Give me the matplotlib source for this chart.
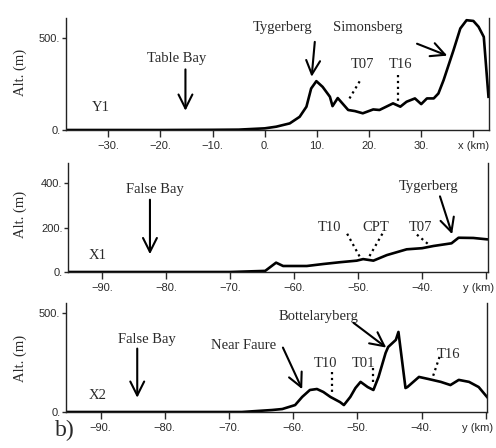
import numpy as np
import matplotlib
matplotlib.use("Agg")
import matplotlib.pyplot as plt
from matplotlib.ticker import FuncFormatter

# profile Y1 (x in km, altitude in m)
y1_km = [-38, -20, -10, -5, 0, 2.2, 4.8, 6.7, 8.0, 8.9, 9.9, 11.1, 12.5, 13.0, 14.0, 16.0,
         17.3, 18.8, 20.8, 22.0, 23.3, 24.6, 26.0, 27.2, 28.8, 30.0, 31.1, 32.4, 33.3,
         34.3, 36.2, 37.5, 38.7, 40.0, 41.0, 42.0, 42.9]
y1_alt = [0, 0, 1, 2, 9, 18, 36, 72, 127, 226, 266, 235, 181, 130, 174, 109,
          103, 91, 112, 109, 127, 145, 127, 154, 172, 141, 172, 172, 199,
          272, 435, 553, 598, 594, 562, 507, 181]

# profile X1 (y in km)
x1_km = [-95.3, -80, -70, -64.5, -62.8, -61.7, -58.0, -55.4, -52.8, -50.2, -49.2, -47.6,
         -45.5, -42.4, -40.0, -38.2, -35.4, -34.3, -32.0, -29.9]
x1_alt = [0, 0, 0, 5, 42, 27, 27, 36, 44, 51, 58, 51,
          76, 102, 107, 117, 129, 154, 153, 147]

# profile X2 (y in km)
x2_km = [-95.4, -80, -68, -63.3, -61.7, -59.7, -58.6, -57.4, -56.3, -55.3, -54.2, -52.7,
         -52.1, -51.1, -50.3, -49.5, -48.4, -47.5, -46.7, -45.6, -45.2, -44.0, -43.6,
         -42.5, -42.2, -40.4, -39.0, -37.0, -35.5, -34.2, -32.6, -31.1, -29.8]
x2_alt = [0, 0, 0, 10, 15, 35, 76, 111, 116, 101, 76, 50,
          35, 76, 121, 152, 126, 111, 177, 298, 328, 364, 404,
          121, 126, 177, 167, 152, 136, 162, 152, 126, 76]

y1_xticks = [-30, -20, -10, 0, 10, 20, 30, 40]
y1_xlabels = ["\u221230.", "\u221220.", "\u221210.", "0.", "10.", "20.", "30.", "x (km)"]
x_ticks = [-90, -80, -70, -60, -50, -40, -30]
x_labels = ["\u221290.", "\u221280.", "\u221270.", "\u221260.", "\u221250.", "\u221240.", ""]
x_unit = "y (km)"

serif = "Liberation Serif"
sans = "Liberation Sans"
txtc = "#2a2a2a"

fig = plt.figure(figsize=(4.96, 4.48), dpi=100)


def panel(rect, xlim, ylim, yticks, xticks, xlabels):
    ax = fig.add_axes(rect)
    ax.set_xlim(*xlim)
    ax.set_ylim(*ylim)
    ax.spines["top"].set_visible(False)
    for s in ["left", "right", "bottom"]:
        ax.spines[s].set_linewidth(1.0)
        ax.spines[s].set_color("#222222")
    ax.set_yticks(yticks)
    ax.yaxis.set_major_formatter(FuncFormatter(lambda v, p: "%d." % v))
    ax.set_xticks(xticks)
    ax.set_xticklabels(xlabels)
    ax.tick_params(axis="x", direction="out", length=5, width=1, pad=3,
                   labelsize=8, colors=txtc)
    ax.tick_params(axis="y", direction="out", length=3, width=1, pad=1,
                   labelsize=8, colors=txtc)
    for lab in ax.get_xticklabels() + ax.get_yticklabels():
        lab.set_family(sans)
    return ax


def arrow(ax, tail, head):
    ax.annotate("", xy=head, xytext=tail,
                arrowprops=dict(arrowstyle="->,head_length=1.0,head_width=0.5",
                                lw=1.5, color="k", shrinkA=0, shrinkB=0))


def dots(ax, p0, p1):
    ax.plot([p0[0], p1[0]], [p0[1], p1[1]], ls=":", lw=1.6, color="k")


def label(ax, x, y, s):
    ax.text(x, y, s, family=serif, fontsize=10.5, color=txtc, ha="center", va="center")


def unit(ax, x):
    ax.annotate(x_unit, xy=(x, 0), xycoords=("data", "axes fraction"),
                xytext=(0, -11.5), textcoords="offset points", ha="center", va="center",
                family=sans, fontsize=8, color=txtc, annotation_clip=False)


# ---- panel Y1
ax1 = panel([66 / 496, 1 - 130 / 448, 423 / 496, 112 / 448], (-38.1, 43), (0, 610),
            [0, 500], y1_xticks, y1_xlabels)
ax1.plot(y1_km, y1_alt, color="k", lw=1.9)
label(ax1, -16.8, 390, "Table Bay")
arrow(ax1, (-15.2, 330), (-15.2, 105))
label(ax1, -31.5, 120, "Y1")
label(ax1, 3.5, 560, "Tygerberg")
arrow(ax1, (9.6, 480), (9.0, 290))
label(ax1, 19.8, 560, "Simonsberg")
arrow(ax1, (29.2, 470), (35.0, 405))
label(ax1, 18.8, 355, "T07")
dots(ax1, (18.2, 265), (16.0, 160))
label(ax1, 26.1, 355, "T16")
dots(ax1, (25.6, 300), (25.6, 150))

# ---- panel X1
ax2 = panel([68 / 496, 1 - 272 / 448, 420 / 496, 109 / 448], (-95.3, -29.7), (0, 490),
            [0, 200, 400], x_ticks, x_labels)
ax2.plot(x1_km, x1_alt, color="k", lw=1.9)
unit(ax2, -31.2)
label(ax2, -81.7, 370, "False Bay")
arrow(ax2, (-82.5, 325), (-82.5, 80))
label(ax2, -90.6, 72, "X1")
label(ax2, -54.4, 202, "T10")
dots(ax2, (-51.7, 172), (-49.7, 67))
label(ax2, -47.3, 202, "CPT")
dots(ax2, (-46.2, 172), (-48.3, 67))
label(ax2, -40.3, 202, "T07")
dots(ax2, (-40.8, 168), (-38.7, 117))
label(ax2, -39.0, 385, "Tygerberg")
arrow(ax2, (-37.2, 340), (-35.3, 170))

# ---- panel X2
ax3 = panel([66 / 496, 1 - 412 / 448, 421 / 496, 109 / 448], (-95.4, -29.8), (0, 550),
            [0, 500], x_ticks, x_labels)
ax3.plot(x2_km, x2_alt, color="k", lw=1.9)
unit(ax3, -31.2)
label(ax3, -82.8, 364, "False Bay")
arrow(ax3, (-84.3, 320), (-84.3, 72))
label(ax3, -90.5, 81, "X2")
label(ax3, -67.8, 338, "Near Faure")
arrow(ax3, (-61.6, 325), (-58.6, 115))
label(ax3, -55.0, 247, "T10")
dots(ax3, (-53.9, 202), (-53.9, 96))
label(ax3, -49.1, 247, "T01")
dots(ax3, (-47.6, 222), (-47.6, 146))
label(ax3, -56.1, 480, "Bottelaryberg")
arrow(ax3, (-50.6, 450), (-45.5, 325))
label(ax3, -35.8, 290, "T16")
dots(ax3, (-37.2, 278), (-38.3, 172))

# y labels
for yc in [72, 214, 358]:
    fig.text(20 / 496, 1 - yc / 448, "Alt. (m)", family=serif, fontsize=10.5,
             color=txtc, rotation=90, ha="center", va="center")
fig.text(65 / 496, 1 - 430 / 448, "b)", family=serif, fontsize=17,
         color=txtc, ha="center", va="center")

fig.savefig("out.png", dpi=100)
